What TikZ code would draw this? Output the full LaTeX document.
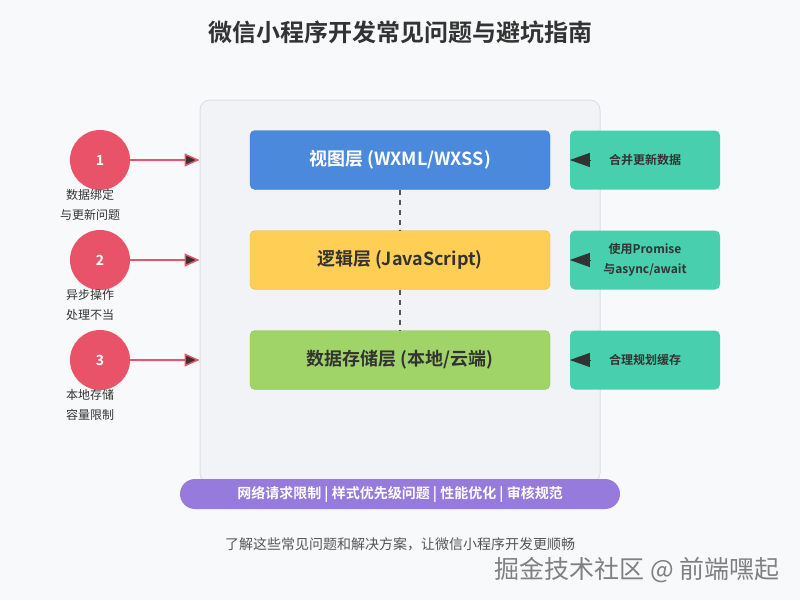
\documentclass[tikz,border=0pt]{standalone}
\usepackage{fontspec}
\setmainfont{Noto Sans CJK SC}[BoldFont={Noto Sans CJK SC Bold}]
\usetikzlibrary{arrows.meta}
\definecolor{fondo}{HTML}{F8F9FA}
\definecolor{panelfill}{HTML}{F1F3F6}
\definecolor{panelline}{HTML}{DCE0E5}
\definecolor{azul}{HTML}{4A89DC}
\definecolor{amarillo}{HTML}{FFCE54}
\definecolor{verde}{HTML}{A0D468}
\definecolor{rojo}{HTML}{E9536A}
\definecolor{turquesa}{HTML}{48CFAD}
\definecolor{morado}{HTML}{967ADC}
\definecolor{oscuro}{HTML}{333333}
\definecolor{gris}{HTML}{555555}
\begin{document}
\begin{tikzpicture}[x=1pt,y=-1pt,
  capa/.style={rounded corners=5pt,draw=#1!90!black,fill=#1,minimum width=300pt,minimum height=59pt,
    font=\bfseries\fontsize{18}{21}\selectfont,text=oscuro},
  problema/.style={circle,fill=rojo,minimum size=60pt,inner sep=0pt,text=white,
    font=\bfseries\fontsize{14}{16}\selectfont},
  solucion/.style={rounded corners=5pt,fill=turquesa,minimum width=150pt,minimum height=59pt,
    align=center,text=oscuro,font=\bfseries\fontsize{12}{20}\selectfont},
  nota/.style={align=center,text=oscuro,font=\fontsize{12}{19.5}\selectfont},
  conector/.style={draw=rojo,line width=1.5pt,-{Triangle[length=15pt,width=13pt,fill=oscuro]}},
  flecha/.style={draw=oscuro,line width=1pt,-{Triangle[length=20pt,width=14pt,fill=oscuro]}},
  punteado/.style={draw=gris,line width=2pt,dash pattern=on 5pt off 5pt}]
\useasboundingbox[fill=fondo] (0,0) rectangle (800,600);
\node[font=\bfseries\fontsize{24}{28}\selectfont,text=oscuro] (titulo) at (400,32) {微信小程序开发常见问题与避坑指南};
%
% panel central
\node[draw=panelline,fill=panelfill,line width=1pt,rounded corners=10pt,
  minimum width=400pt,minimum height=383pt] (panel) at (400,291.5) {};
\node[capa=azul,text=white] (l1) at (400,160) {视图层 (WXML/WXSS)};
\node[capa=amarillo] (l2) at (400,260) {逻辑层 (JavaScript)};
\node[capa=verde] (l3) at (400,360) {数据存储层 (本地/云端)};
\draw[punteado] (l1.south) -- (l2.north);
\draw[punteado] (l2.south) -- (l3.north);
%
% problemas
\foreach \n/\y/\txt in {1/160/{数据绑定\\与更新问题},2/260/{异步操作\\处理不当},3/360/{本地存储\\容量限制}}{
  \node[problema] (c\n) at (100,\y) {\n};
  \node[nota] (t\n) at (90,\y+45) {\txt};
  \draw[conector] (c\n.east) -- (c\n.east -| panel.west);
}
%
% soluciones
\node[solucion] (f1) at (645,160) {合并更新数据};
\node[solucion] (f2) at (645,260) {使用Promise\\与async/await};
\node[solucion] (f3) at (645,360) {合理规划缓存};
\foreach \n in {1,2,3}
  \draw[flecha] ([xshift=20pt]f\n.west) -- (f\n.west);
%
\node[rounded corners=15pt,fill=morado,minimum width=440pt,minimum height=30pt,text=white,
  font=\bfseries\fontsize{14}{16}\selectfont] (barra) at (400,494) {网络请求限制 | 样式优先级问题 | 性能优化 | 审核规范};
\node[text=gris,font=\fontsize{14}{16}\selectfont] (pie) at (400,544) {了解这些常见问题和解决方案，让微信小程序开发更顺畅};
\node[text=black!50,font=\fontsize{25}{29}\selectfont,anchor=east] (marca) at (783,570) {掘金技术社区 @ 前端嘿起};
\end{tikzpicture}
\end{document}
